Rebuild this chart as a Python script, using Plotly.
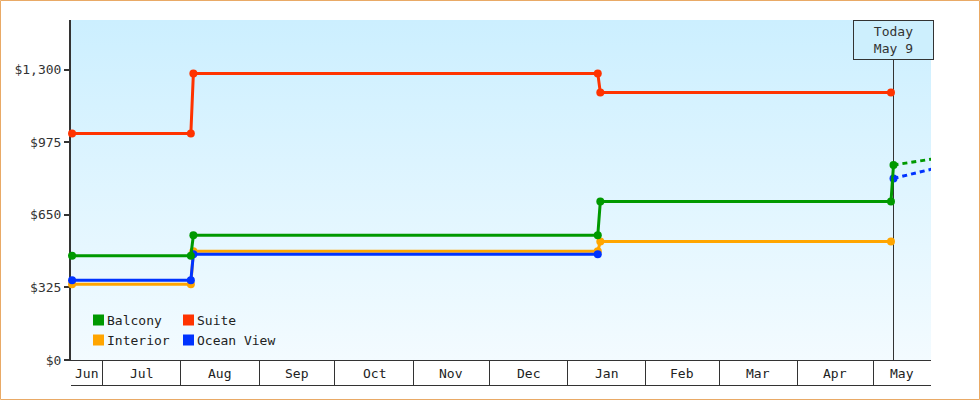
import base64
import datetime as dt
import plotly.graph_objects as go

# ---------------- data ----------------
price_dates = ["2023-06-19", "2023-08-05", "2023-08-06", "2024-01-13",
               "2024-01-14", "2024-05-08", "2024-05-09"]
balcony = [467, 467, 558, 558, 709, 709, 873]
suite = [1014, 1014, 1283, 1283, 1197, 1197, None]
interior = [339, 339, 487, 487, 530, 530, None]
ocean_view = [357, 357, 473, 473, None, None, 813]

forecast_dates = ["2024-05-09", "2024-05-24"]
balcony_forecast = [873, 899]
ocean_view_forecast = [813, 854]

today = "2024-05-09"
today_label = "Today<br>May 9"

month_labels = ["Jun", "Jul", "Aug", "Sep", "Oct", "Nov", "Dec",
                "Jan", "Feb", "Mar", "Apr", "May"]
month_first = (2023, 6)

y_tickvals = [0, 325, 650, 975, 1300]
y_ticktext = ["$0", "$325", "$650", "$975", "$1,300"]

x_range = [dt.datetime(2023, 6, 18, 14), dt.datetime(2024, 5, 23, 20)]
y_range = [0, 1522]

# ---------------- style ----------------
FONT = "DejaVu Sans Mono"
DARK = "#333333"
colors = {"Balcony": "#009900", "Suite": "#ff3300",
          "Interior": "#ffa500", "Ocean View": "#0033ff"}

W, H = 980, 400
ML, MR, MT, MB = 71, 49, 20, 40
PW, PH = W - ML - MR, H - MT - MB


def px_x(px):
    return (px - ML) / PW


def px_y(py):
    return (MT + PH - py) / PH


fig = go.Figure()

series = [("Interior", interior), ("Ocean View", ocean_view),
          ("Balcony", balcony), ("Suite", suite)]
for name, vals in series:
    fig.add_trace(go.Scatter(
        x=price_dates, y=vals, name=name, mode="lines+markers",
        line=dict(color=colors[name], width=3),
        marker=dict(color=colors[name], size=8),
        connectgaps=False, cliponaxis=False, showlegend=False,
        hoverinfo="skip"))

for name, vals in [("Ocean View", ocean_view_forecast), ("Balcony", balcony_forecast)]:
    fig.add_trace(go.Scatter(
        x=forecast_dates, y=vals, mode="lines", showlegend=False,
        line=dict(color=colors[name], width=3, dash="5px,4px"),
        hoverinfo="skip"))

# month boundaries and label centres
bounds = []
y, m = month_first
for _ in range(len(month_labels) + 1):
    bounds.append(dt.datetime(y, m, 1))
    m += 1
    if m > 12:
        m, y = 1, y + 1
tickvals = [b for b in bounds if x_range[0] < b < x_range[1]]

annotations = []
for i, lab in enumerate(month_labels):
    a = max(bounds[i], x_range[0])
    b = min(bounds[i + 1], x_range[1])
    c = a + (b - a) / 2
    annotations.append(dict(x=c, xref="x", y=px_y(373), yref="paper",
                            text=lab, showarrow=False,
                            font=dict(family=FONT, size=13, color="#222222"),
                            xanchor="center", yanchor="middle"))

# today box
annotations.append(dict(x=today, xref="x", y=1, yref="paper", yanchor="top",
                        xanchor="center", text=today_label, showarrow=False,
                        width=75, height=34, borderpad=2, borderwidth=1,
                        bordercolor=DARK, bgcolor="#cdeffd", align="center",
                        font=dict(family=FONT, size=13, color=DARK)))

shapes = []
shapes.append(dict(type="line", xref="x", yref="paper", x0=today, x1=today,
                   y0=0, y1=px_y(60), line=dict(color=DARK, width=1),
                   layer="below"))
shapes.append(dict(type="line", xref="paper", yref="paper", x0=0, x1=1,
                   y0=px_y(385.5), y1=px_y(385.5),
                   line=dict(color=DARK, width=1)))
shapes.append(dict(type="rect", xref="paper", yref="paper",
                   x0=px_x(0.5), x1=px_x(979.5), y0=px_y(399.5), y1=px_y(0.5),
                   line=dict(color="#e9aa66", width=1), fillcolor="rgba(0,0,0,0)"))

# legend (2 x 2)
legend_items = ["Balcony", "Suite", "Interior", "Ocean View"]
col_x = [93, 183]
row_y = [320, 340]
for k, name in enumerate(legend_items):
    cx = col_x[k % 2]
    cy = row_y[k // 2]
    shapes.append(dict(type="rect", xref="paper", yref="paper",
                       x0=px_x(cx), x1=px_x(cx + 11),
                       y0=px_y(cy + 5.5), y1=px_y(cy - 5.5),
                       fillcolor=colors[name], line=dict(width=0)))
    annotations.append(dict(x=px_x(cx + 12), xref="paper", y=px_y(cy), yref="paper",
                            xanchor="left", yanchor="middle", text=name,
                            showarrow=False,
                            font=dict(family=FONT, size=13, color="#222222")))

svg = ('<svg xmlns="http://www.w3.org/2000/svg" width="100" height="100" '
       'viewBox="0 0 100 100" preserveAspectRatio="none"><defs>'
       '<linearGradient id="g" x1="0" y1="0" x2="0" y2="1">'
       '<stop offset="0" stop-color="#ccefff"/>'
       '<stop offset="1" stop-color="#f3fbff"/></linearGradient></defs>'
       '<rect width="100" height="100" fill="url(#g)"/></svg>')
bg_src = "data:image/svg+xml;base64," + base64.b64encode(svg.encode()).decode()

fig.update_layout(
    width=W, height=H,
    margin=dict(l=ML, r=MR, t=MT, b=MB, pad=0),
    paper_bgcolor="white", plot_bgcolor="#e2f5fe",
    showlegend=False, hovermode=False,
    font=dict(family=FONT, size=13, color=DARK),
    images=[dict(source=bg_src, xref="paper", yref="paper", x=0, y=1,
                 sizex=1, sizey=1, xanchor="left", yanchor="top",
                 sizing="stretch", layer="below")],
    shapes=shapes, annotations=annotations,
    xaxis=dict(type="date", range=x_range, showgrid=False, zeroline=False,
               showline=True, linecolor=DARK, linewidth=1,
               ticks="outside", ticklen=25, tickwidth=1, tickcolor=DARK,
               tickvals=tickvals, showticklabels=False, fixedrange=True),
    yaxis=dict(range=y_range, showgrid=False, zeroline=False,
               showline=True, linecolor=DARK, linewidth=2,
               ticks="outside", ticklen=5, tickwidth=2, tickcolor=DARK,
               tickvals=y_tickvals, ticktext=y_ticktext,
               tickfont=dict(family=FONT, size=13, color=DARK),
               layer="below traces", fixedrange=True),
)

fig.write_html("out.html", config={"displayModeBar": False},
               post_script="document.body.style.margin='0';"
                           "document.body.style.overflow='hidden';")
